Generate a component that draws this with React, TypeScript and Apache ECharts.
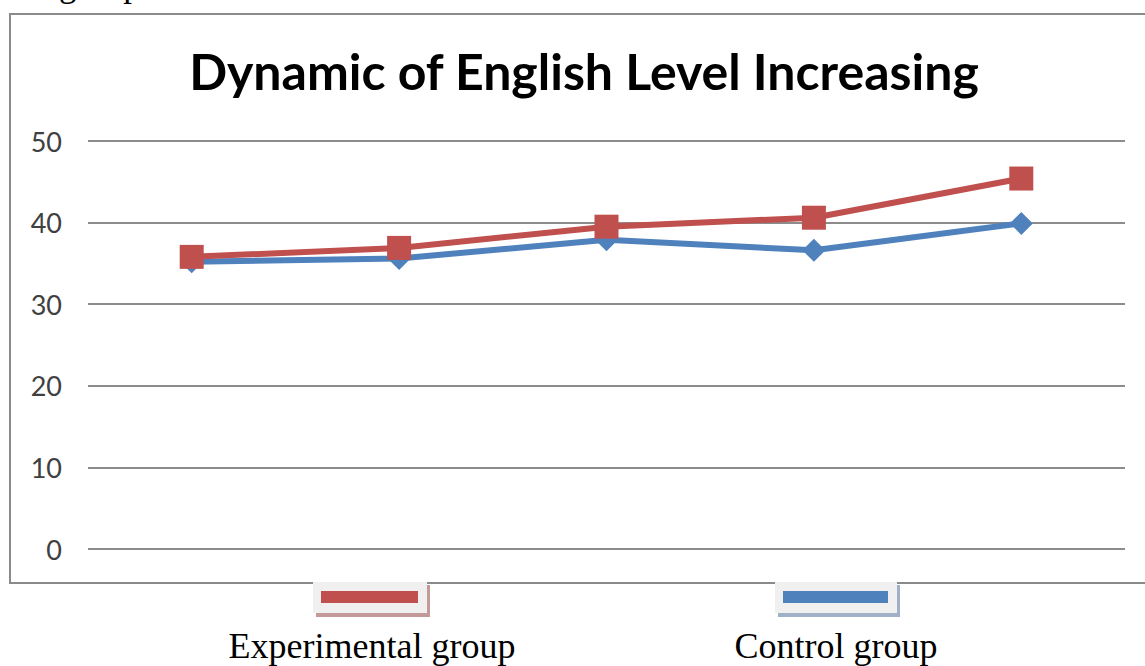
import React, { useEffect, useRef } from "react";
import * as echarts from "echarts";

const categories = ["Stage 1", "Stage 2", "Stage 3", "Stage 4", "Stage 5"];
const experimental = [35.8, 36.9, 39.5, 40.6, 45.4];
const control = [35.2, 35.6, 37.9, 36.6, 39.9];
const seriesNames = ["Experimental group", "Control group"];
const yTicks = { min: 0, max: 50, interval: 10 };
const titleText = "Dynamic of English Level Increasing";

const RED = "#C0504D";
const BLUE = "#4F81BD";

export default function App() {
  const ref = useRef<HTMLDivElement>(null);
  useEffect(() => {
    if (!ref.current) return;
    const chart = echarts.init(ref.current, undefined, { renderer: "svg" });
    chart.setOption({
      animation: false,
      backgroundColor: "#ffffff",
      grid: { left: 88, right: 20, top: 141, bottom: 117 },
      xAxis: {
        type: "category",
        data: categories,
        boundaryGap: true,
        axisLine: { show: false },
        axisTick: { show: false },
        axisLabel: { show: false },
      },
      yAxis: {
        type: "value",
        min: yTicks.min,
        max: yTicks.max,
        interval: yTicks.interval,
        axisLine: { show: false },
        axisTick: { show: false },
        axisLabel: {
          margin: 26,
          fontFamily: "Lato",
          fontSize: 27,
          color: "#404040",
        },
        splitLine: { lineStyle: { color: "#8c8c8c", width: 2 } },
      },
      series: [
        {
          name: seriesNames[1],
          type: "line",
          data: control,
          symbol: "diamond",
          symbolSize: 23,
          lineStyle: { color: BLUE, width: 6 },
          itemStyle: { color: BLUE },
          z: 2,
        },
        {
          name: seriesNames[0],
          type: "line",
          data: experimental,
          symbol: "rect",
          symbolSize: 24,
          lineStyle: { color: RED, width: 6 },
          itemStyle: { color: RED },
          z: 3,
        },
      ],
      graphic: [
        {
          type: "text",
          x: 59,
          y: -16,
          style: {
            text: "group",
            font: "35px 'Liberation Serif'",
            fill: "#000",
            textAlign: "left",
            textVerticalAlign: "middle",
          },
        },
        {
          type: "rect",
          shape: { x: 10, y: 14, width: 1200, height: 569 },
          style: { fill: "none", stroke: "#8a8a8a", lineWidth: 2 },
          z: 10,
        },
        {
          type: "text",
          x: 584,
          y: 71,
          style: {
            text: titleText,
            font: "bold 50px Lato",
            fill: "#000",
            textAlign: "center",
            textVerticalAlign: "middle",
          },
        },
        // legend: experimental
        {
          type: "rect",
          shape: { x: 316, y: 585, width: 114, height: 32 },
          style: { fill: "#c49a99" },
          z: 11,
        },
        {
          type: "rect",
          shape: { x: 313, y: 582, width: 114, height: 31 },
          style: { fill: "#f0f0f0" },
          z: 12,
        },
        {
          type: "rect",
          shape: { x: 321, y: 591, width: 97, height: 12 },
          style: { fill: RED },
          z: 13,
        },
        {
          type: "text",
          x: 372,
          y: 646,
          style: {
            text: seriesNames[0],
            font: "36px 'Liberation Serif'",
            fill: "#000",
            textAlign: "center",
            textVerticalAlign: "middle",
          },
        },
        // legend: control
        {
          type: "rect",
          shape: { x: 778, y: 585, width: 122, height: 32 },
          style: { fill: "#9fb0c8" },
          z: 11,
        },
        {
          type: "rect",
          shape: { x: 775, y: 582, width: 122, height: 31 },
          style: { fill: "#f0f0f0" },
          z: 12,
        },
        {
          type: "rect",
          shape: { x: 783, y: 591, width: 105, height: 12 },
          style: { fill: BLUE },
          z: 13,
        },
        {
          type: "text",
          x: 836,
          y: 646,
          style: {
            text: seriesNames[1],
            font: "36px 'Liberation Serif'",
            fill: "#000",
            textAlign: "center",
            textVerticalAlign: "middle",
          },
        },
      ],
    });
    return () => chart.dispose();
  }, []);
  return (
    <div
      ref={ref}
      style={{ position: "absolute", left: 0, top: 0, width: 1145, height: 666 }}
    />
  );
}
